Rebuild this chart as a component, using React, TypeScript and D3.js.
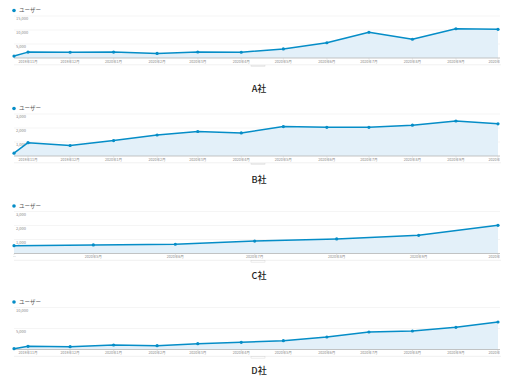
import * as d3 from "d3";
import React from "react";

// 月次ユーザー数（GAのスクリーンショットから読み取り）
const abdDates = [
  "2019-10-22", "2019-11-01", "2019-12-01", "2020-01-01", "2020-02-01",
  "2020-03-01", "2020-04-01", "2020-05-01", "2020-06-01", "2020-07-01",
  "2020-08-01", "2020-09-01", "2020-10-01",
];
const abdTicks = [
  "", "2019年11月", "2019年12月", "2020年1月", "2020年2月", "2020年3月",
  "2020年4月", "2020年5月", "2020年6月", "2020年7月", "2020年8月",
  "2020年9月", "2020年10月",
];
const cDates = [
  "2020-04-01", "2020-05-01", "2020-06-01", "2020-07-01",
  "2020-08-01", "2020-09-01", "2020-10-01",
];
const cTicks = [
  "…", "2020年5月", "2020年6月", "2020年7月",
  "2020年8月", "2020年9月", "2020年10月",
];

const usersA = [700, 2100, 2050, 2100, 1650, 2150, 2050, 3250, 5450, 9200, 6700, 10450, 10250];
const usersB = [200, 950, 750, 1100, 1500, 1750, 1650, 2100, 2050, 2050, 2200, 2500, 2300];
const usersC = [560, 610, 660, 890, 1040, 1300, 2010];
const usersD = [190, 760, 670, 1070, 900, 1380, 1710, 2100, 2980, 4170, 4400, 5290, 6550];

const yTicksA = [5000, 10000, 15000];
const yTicksB = [1000, 2000, 3000];
const yTicksC = [1000, 2000, 3000];
const yTicksD = [5000, 10000];

const titles = ["A社", "B社", "C社", "D社"];
const legendLabel = "ユーザー";

const W = 512;
const H = 388;
const left = 14;
const right = 498;
const plotH = 42;
const BLUE = "#058dc7";
const FONT = "'Noto Sans CJK JP', 'Noto Sans', sans-serif";

const panels = [
  { title: titles[0], dates: abdDates, ticks: abdTicks, values: usersA, yTicks: yTicksA, top: 16, titleY: 92 },
  { title: titles[1], dates: abdDates, ticks: abdTicks, values: usersB, yTicks: yTicksB, top: 114, titleY: 183 },
  { title: titles[2], dates: cDates, ticks: cTicks, values: usersC, yTicks: yTicksC, top: 211.5, titleY: 279 },
  { title: titles[3], dates: abdDates, ticks: abdTicks, values: usersD, yTicks: yTicksD, top: 307.5, titleY: 374 },
];

const parse = d3.timeParse("%Y-%m-%d");
const fmt = d3.format(",");

const Panel = ({ p, i }) => {
  const dates = p.dates.map((d) => parse(d));
  const x = d3.scaleTime().domain([dates[0], dates[dates.length - 1]]).range([left, right]);
  const y = d3
    .scaleLinear()
    .domain([0, d3.max(p.yTicks)])
    .range([p.top + plotH, p.top]);
  const pts = p.values.map((v, k) => ({ d: dates[k], v, label: p.ticks[k] }));
  const line = d3.line().x((d) => x(d.d)).y((d) => y(d.v));
  const area = d3.area().x((d) => x(d.d)).y0(y(0)).y1((d) => y(d.v));
  const base = y(0);
  const clipId = `clip-${i}`;

  return (
    <g>
      <clipPath id={clipId}>
        <rect x={left - 1} y={base} width={right - left + 3} height={8} />
      </clipPath>
      {/* legend */}
      <circle cx={left} cy={p.top - 5.5} r={1.8} fill={BLUE} />
      <text x={left + 5} y={p.top - 5.5} dy="0.35em" fontSize={5.5} fill="#555" fontFamily={FONT}>
        {legendLabel}
      </text>
      {/* grid + y labels */}
      {p.yTicks.map((t) => (
        <g key={t}>
          <line x1={left} x2={right + 2} y1={y(t)} y2={y(t)} stroke="#eeeeee" strokeWidth={0.6} />
          <text x={left + 2} y={y(t) + 3} dy="0.35em" fontSize={4} fill="#888" fontFamily={FONT}>
            {fmt(t)}
          </text>
        </g>
      ))}
      <path d={area(pts)} fill="#e3f0f9" />
      <line x1={left} x2={right + 2} y1={base} y2={base} stroke="#b5b5b5" strokeWidth={0.8} />
      <path d={line(pts)} fill="none" stroke={BLUE} strokeWidth={1.5} strokeLinejoin="round" />
      {pts.map((d, k) => (
        <circle key={k} cx={x(d.d)} cy={y(d.v)} r={1.6} fill={BLUE} />
      ))}
      {/* x tick labels */}
      <g clipPath={`url(#${clipId})`}>
        {pts.map((d, k) =>
          d.label ? (
            <g key={k}>
              <line x1={x(d.d)} x2={x(d.d)} y1={base} y2={base + 1.5} stroke="#ccc" strokeWidth={0.5} />
              <text
                x={x(d.d)}
                y={base + 3.6}
                dy="0.35em"
                textAnchor="middle"
                fontSize={3.6}
                fill="#888"
                fontFamily={FONT}
              >
                {d.label}
              </text>
            </g>
          ) : null
        )}
      </g>
      {/* scroll bar hint */}
      <line x1={left} x2={right + 3} y1={base + 6.8} y2={base + 6.8} stroke="#e6e6e6" strokeWidth={0.6} />
      <rect x={251} y={base + 7.2} width={14} height={1.4} fill="none" stroke="#cfcfcf" strokeWidth={0.4} />
      <text x={259} y={p.titleY} textAnchor="middle" fontSize={9} fontWeight={500} fill="#222" fontFamily={FONT}>
        {p.title}
      </text>
    </g>
  );
};

export default function App() {
  return (
    <div style={{ position: "absolute", left: 0, top: 0 }}>
      <svg width={W} height={H} style={{ display: "block", background: "#fff" }}>
        {panels.map((p, i) => (
          <Panel key={i} p={p} i={i} />
        ))}
      </svg>
    </div>
  );
}
